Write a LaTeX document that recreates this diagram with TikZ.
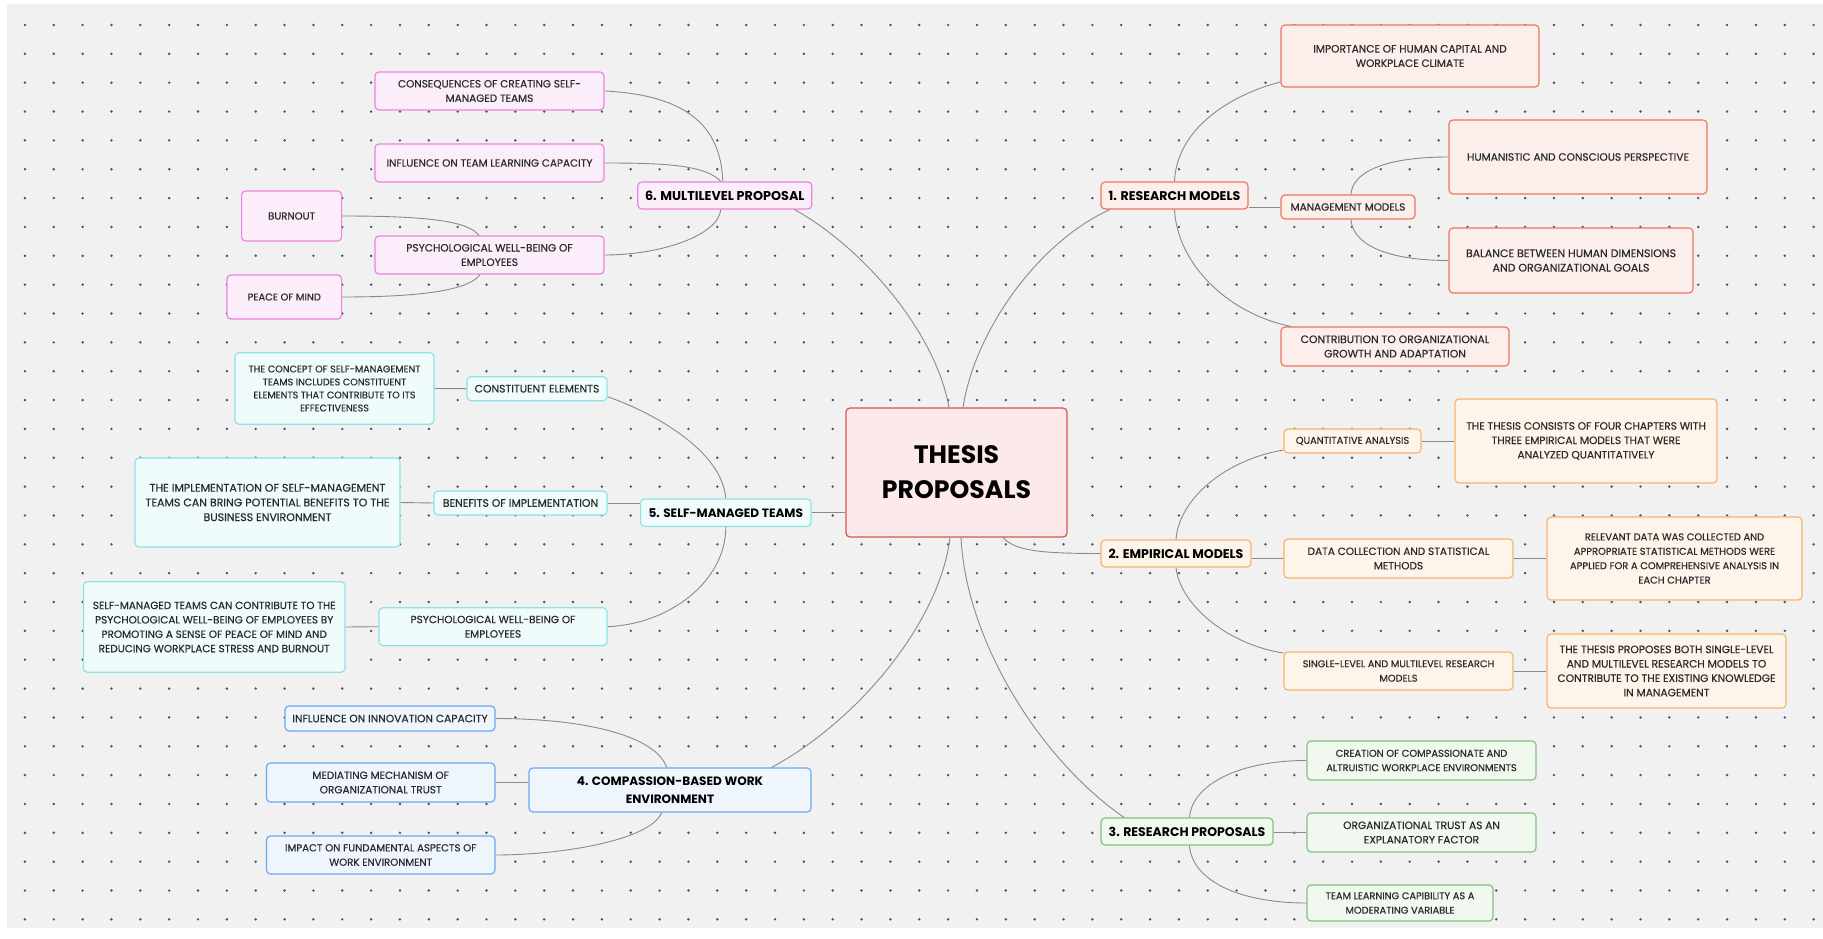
\documentclass[tikz,border=0pt]{standalone}
\usepackage{fontspec}
\setmainfont{Poppins}
\newfontfamily\medfont{Poppins}[FakeBold=0.35]
\usetikzlibrary{calc}

\definecolor{paper}{HTML}{F1F1F1}
\definecolor{dotc}{HTML}{44545F}
\definecolor{wire}{HTML}{8A8A8A}
\definecolor{inkc}{HTML}{2A2A2A}
\definecolor{rootline}{HTML}{D9534F}\definecolor{rootfill}{HTML}{FCE9E9}
\definecolor{rmline}{HTML}{F0765E}\definecolor{rmfill}{HTML}{FCEEEA}
\definecolor{emline}{HTML}{F6B56E}\definecolor{emfill}{HTML}{FDF4EA}
\definecolor{rpline}{HTML}{7DC57B}\definecolor{rpfill}{HTML}{F1F8F0}
\definecolor{cpline}{HTML}{6AA9F0}\definecolor{cpfill}{HTML}{EEF5FD}
\definecolor{smline}{HTML}{8BE3E6}\definecolor{smfill}{HTML}{F0FBFC}
\definecolor{mlline}{HTML}{EE82E2}\definecolor{mlfill}{HTML}{FBEEFA}

\tikzset{
  box/.style={draw, rounded corners=4pt, line width=1.2pt, inner sep=0pt,
    align=center, text=inkc, fs=10.4},
  % text size of a box: size, with a line pitch of about 1.38 times the size
  fs/.style={font=\medfont\fontsize{#1}{14.4}\selectfont},
  fsl/.style 2 args={font=\medfont\fontsize{#1}{#2}\selectfont},
  wh/.style 2 args={minimum width=#1pt, minimum height=#2pt},
  head/.style={font=\bfseries\fontsize{#1}{18.6}\selectfont, text=black},
  rootbox/.style={box, draw=rootline, fill=rootfill,
    font=\bfseries\fontsize{25.2}{35}\selectfont, text=black},
  rmbox/.style={box, draw=rmline, fill=rmfill},
  embox/.style={box, draw=emline, fill=emfill},
  rpbox/.style={box, draw=rpline, fill=rpfill},
  cpbox/.style={box, draw=cpline, fill=cpfill},
  smbox/.style={box, draw=smline, fill=smfill},
  mlbox/.style={box, draw=mlline, fill=mlfill},
  wire/.style={draw=wire, line width=0.9pt},
}

\begin{document}
\begin{tikzpicture}[x=1pt, y=-1pt]
% canvas and dotted grid
\useasboundingbox (0,0) rectangle (1823,939);
\fill[white] (0,0) rectangle (1823,939);
\fill[paper] (7,4) rectangle (1823,928);
\foreach \i in {0,...,62}
  \foreach \j in {0,...,31}
    \fill[dotc] (24.9+28.85*\i, 25+28.85*\j) circle (1.35pt);

% central topic
\node[rootbox, wh={221}{129}] (root) at (956.5,472.5) {THESIS\\PROPOSALS};

% 1. research models
\node[rmbox, head=12.6, wh={147}{27}] (rm) at (1174.5,195.5) {1. RESEARCH MODELS};
\node[rmbox, fs=10.6, wh={258}{62}] (imp) at (1410,56) {IMPORTANCE OF HUMAN CAPITAL AND\\WORKPLACE CLIMATE};
\node[rmbox, fs=10.45, wh={134}{24}] (mgmt) at (1348,207) {MANAGEMENT MODELS};
\node[rmbox, fs=10.6, wh={258}{74}] (hum) at (1578,157) {HUMANISTIC AND CONSCIOUS PERSPECTIVE};
\node[rmbox, fs=11, wh={244}{65}] (bal) at (1571,260.5) {BALANCE BETWEEN HUMAN DIMENSIONS\\AND ORGANIZATIONAL GOALS};
\node[rmbox, fs=10.8, wh={228}{39}] (contrib) at (1395,346.5) {CONTRIBUTION TO ORGANIZATIONAL\\GROWTH AND ADAPTATION};

% 2. empirical models
\node[embox, head=12.6, wh={150}{27}] (emp) at (1176,553.5) {2. EMPIRICAL MODELS};
\node[embox, fs=9.8, wh={137}{24}] (quant) at (1352.5,441) {QUANTITATIVE ANALYSIS};
\node[embox, fs=10.6, wh={262}{84}] (consists) at (1586,441) {THE THESIS CONSISTS OF FOUR CHAPTERS WITH\\THREE EMPIRICAL MODELS THAT WERE\\ANALYZED QUANTITATIVELY};
\node[embox, fs=10.5, wh={229}{39}] (data) at (1398.5,558.5) {DATA COLLECTION AND STATISTICAL\\METHODS};
\node[embox, fs=9.9, wh={255}{83}] (relevant) at (1674.5,558.5) {RELEVANT DATA WAS COLLECTED AND\\APPROPRIATE STATISTICAL METHODS WERE\\APPLIED FOR A COMPREHENSIVE ANALYSIS IN\\EACH CHAPTER};
\node[embox, fs=9.8, wh={229}{38}] (single) at (1398.5,671) {SINGLE-LEVEL AND MULTILEVEL RESEARCH\\MODELS};
\node[embox, fs=10.7, wh={239}{74}] (proposes) at (1666.5,671) {THE THESIS PROPOSES BOTH SINGLE-LEVEL\\AND MULTILEVEL RESEARCH MODELS TO\\CONTRIBUTE TO THE EXISTING KNOWLEDGE\\IN MANAGEMENT};

% 3. research proposals
\node[rpbox, head=12.5, wh={172}{27}] (rp) at (1187,831.5) {3. RESEARCH PROPOSALS};
\node[rpbox, fs=9.9, wh={229}{39}] (creation) at (1421.5,760.5) {CREATION OF COMPASSIONATE AND\\ALTRUISTIC WORKPLACE ENVIRONMENTS};
\node[rpbox, fs=10.6, wh={229}{39}] (orgtrust) at (1421.5,832.5) {ORGANIZATIONAL TRUST AS AN\\EXPLANATORY FACTOR};
\node[rpbox, fs=9.8, wh={186}{36}] (teamlearn) at (1400,903) {TEAM LEARNING CAPIBILITY AS A\\MODERATING VARIABLE};

% 4. compassion-based work environment
\node[cpbox, head=12.1, wh={282}{44}] (cp) at (670,790) {4. COMPASSION-BASED WORK\\ENVIRONMENT};
\node[cpbox, fs=10.7, wh={210}{25}] (innov) at (390,718.5) {INFLUENCE ON INNOVATION CAPACITY};
\node[cpbox, fs=10.5, wh={228.5}{39}] (med) at (380.7,782.5) {MEDIATING MECHANISM OF\\ORGANIZATIONAL TRUST};
\node[cpbox, fs=10.2, wh={228.5}{38}] (impact) at (380.7,855) {IMPACT ON FUNDAMENTAL ASPECTS OF\\WORK ENVIRONMENT};

% 5. self-managed teams
\node[smbox, head=12.1, wh={170.4}{27.5}] (smt) at (725.8,512.7) {5. SELF-MANAGED TEAMS};
\node[smbox, fs=10.8, wh={140}{24}] (const) at (537,388.7) {CONSTITUENT ELEMENTS};
\node[smbox, fsl={9.6}{13}, wh={199}{71.6}] (concept) at (334.5,388.5) {THE CONCEPT OF SELF-MANAGEMENT\\TEAMS INCLUDES CONSTITUENT\\ELEMENTS THAT CONTRIBUTE TO ITS\\EFFECTIVENESS};
\node[smbox, fs=10.9, wh={173}{24}] (ben) at (520.5,503) {BENEFITS OF IMPLEMENTATION};
\node[smbox, fsl={11}{14.7}, wh={265}{89}] (impl) at (267.5,502.5) {THE IMPLEMENTATION OF SELF-MANAGEMENT\\TEAMS CAN BRING POTENTIAL BENEFITS TO THE\\BUSINESS ENVIRONMENT};
\node[smbox, fs=10.5, wh={228}{38}] (psytwo) at (493,626.7) {PSYCHOLOGICAL WELL-BEING OF\\EMPLOYEES};
\node[smbox, fs=10.45, wh={261.6}{90.6}] (selfcan) at (214.2,627) {SELF-MANAGED TEAMS CAN CONTRIBUTE TO THE\\PSYCHOLOGICAL WELL-BEING OF EMPLOYEES BY\\PROMOTING A SENSE OF PEACE OF MIND AND\\REDUCING WORKPLACE STRESS AND BURNOUT};

% 6. multilevel proposal
\node[mlbox, head=12.8, wh={174}{27}] (ml) at (724.8,195.5) {6. MULTILEVEL PROPOSAL};
\node[mlbox, fs=10.5, wh={229}{38}] (conseq) at (489.5,91) {CONSEQUENCES OF CREATING SELF-\\MANAGED TEAMS};
\node[mlbox, fs=10.45, wh={229}{38}] (inflteam) at (489.5,163) {INFLUENCE ON TEAM LEARNING CAPACITY};
\node[mlbox, fs=10.6, wh={229}{38}] (psyone) at (489.5,255) {PSYCHOLOGICAL WELL-BEING OF\\EMPLOYEES};
\node[mlbox, fs=10.2, wh={100}{50}] (burn) at (291.6,216) {BURNOUT};
\node[mlbox, fs=9.9, wh={114.6}{44}] (peace) at (284.3,297) {PEACE OF MIND};

% connectors from the central topic
\draw[wire] ($(root.north)+(-7.5,0)$) .. controls +(-14,-78) and +(65.5,36) .. ($(ml.south)+(69.7,0)$);
\draw[wire] ($(root.north)+(6.5,0)$) .. controls +(12,-78) and +(-70,31) .. ($(rm.south)+(-64.5,0)$);
\draw[wire] (smt.east) -- (smt.east -| root.west);
\draw[wire] ($(root.south)+(46.5,0)$) .. controls +(12,13) and +(-61,0) .. (emp.west);
\draw[wire] ($(root.south)+(-6.5,0)$) .. controls +(-10,83) and +(88.3,-48) .. ($(cp.north)+(101.7,0)$);
\draw[wire] ($(root.south)+(4.5,0)$) .. controls +(5,103) and +(-84,-58) .. ($(rp.north)+(-63,0)$);

% 1. research models
\draw[wire] (rm.north) .. controls +(2,-52) and +(-51,13) .. ($(imp.west)+(0,26)$);
\draw[wire] (mgmt.west) -- (mgmt.west -| rm.east);
\draw[wire] (rm.south) .. controls +(3,56) and +(-61,-12) .. ($(contrib.north)+(-104,0)$);
\draw[wire] ($(mgmt.north)+(3,0)$) .. controls +(1,-20) and +(-69,0) .. (hum.west);
\draw[wire] ($(mgmt.south)+(3,0)$) .. controls +(1,21) and +(-69,0) .. (bal.west);

% 2. empirical models
\draw[wire] (emp.north) .. controls +(3,-40) and +(-59,10) .. ($(quant.west)+(0,9)$);
\draw[wire] (data.west) -- (data.west -| emp.east);
\draw[wire] (emp.south) .. controls +(4,38) and +(-54,-8) .. ($(single.west)+(0,-18)$);
\draw[wire] (quant.east) -- (consists.west);
\draw[wire] (data.east) -- (relevant.west);
\draw[wire] (single.east) -- (proposes.west);

% 3. research proposals
\draw[wire] ($(rp.north)+(2.5,0)$) .. controls +(2.5,-33) and +(-67,0) .. (creation.west);
\draw[wire] (orgtrust.west) -- (orgtrust.west -| rp.east);
\draw[wire] ($(rp.south)+(2.5,0)$) .. controls +(2.5,35) and +(-67,0) .. (teamlearn.west);

% 4. compassion-based work environment
\draw[wire] (innov.east) .. controls +(85,0) and +(-11.7,-33) .. ($(cp.north)+(-3.3,0)$);
\draw[wire] (med.east) -- (med.east -| cp.west);
\draw[wire] ($(cp.south)+(-8.3,0)$) .. controls +(-11.7,28) and +(65,0) .. (impact.east);

% 5. self-managed teams
\draw[wire] ($(const.east)+(0,8)$) .. controls +(43,15) and +(-4,-49) .. (smt.north);
\draw[wire] (ben.east) -- (ben.east -| smt.west);
\draw[wire] (smt.south) .. controls +(0,53.5) and +(63,-2.7) .. (psytwo.east);
\draw[wire] (concept.east) -- (const.west);
\draw[wire] (impl.east) -- (ben.west);
\draw[wire] (selfcan.east) -- (psytwo.west);

% 6. multilevel proposal
\draw[wire] ($(ml.north)+(-2,0)$) .. controls +(-2,-57) and +(80,4) .. (conseq.east);
\draw[wire] (inflteam.east) .. controls +(56,0) and +(-15.6,-17) .. ($(ml.north)+(-4,0)$);
\draw[wire] ($(ml.south)+(-4,0)$) .. controls +(-2.6,26) and +(56,0) .. (psyone.east);
\draw[wire] (burn.east) .. controls +(88.4,0) and +(-11,-14) .. ($(psyone.north)+(-10.5,0)$);
\draw[wire] (peace.east) .. controls +(88,0) and +(-10,14) .. ($(psyone.south)+(-9.5,0)$);
\end{tikzpicture}
\end{document}
